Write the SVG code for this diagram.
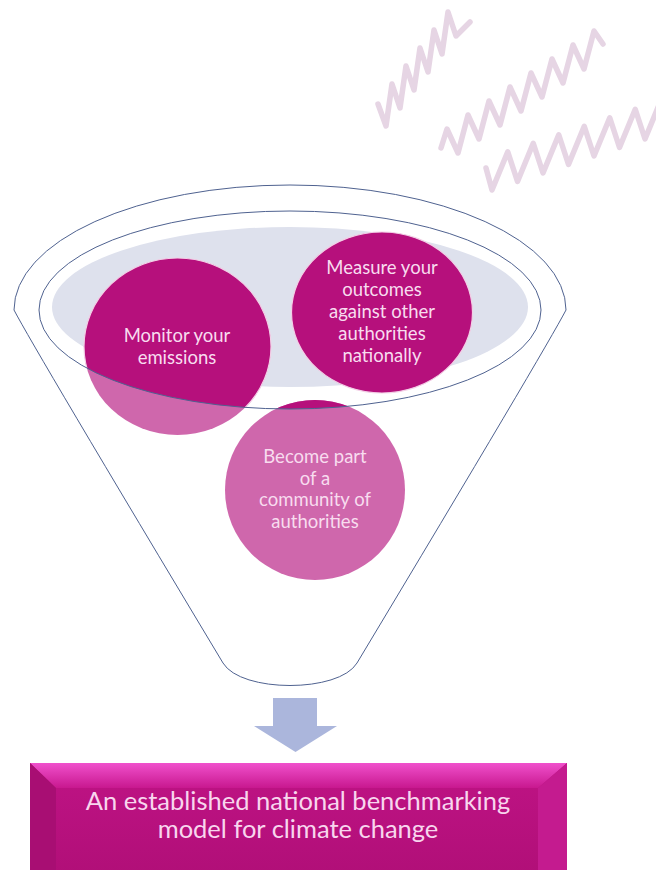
<svg xmlns="http://www.w3.org/2000/svg" width="656" height="870" viewBox="0 0 656 870">
<style>
.zig{fill:none;stroke:#e6d5e4;stroke-width:5.5;stroke-linecap:round;stroke-linejoin:round}
.rim{fill:none;stroke:#4f6290;stroke-width:1}
.ctext{font-family:Lato,"Liberation Sans",sans-serif;font-size:18.5px;fill:#f8dcef;text-anchor:middle}
.btext{font-family:Lato,"Liberation Sans",sans-serif;font-size:25.5px;fill:#f8d6ee;text-anchor:middle}
.dark{fill:#b6107c}
.light{fill:#cf67ac}
</style>
<defs>
<clipPath id="innerClip"><ellipse cx="290" cy="310" rx="251" ry="99"/></clipPath>
<linearGradient id="topBevel" x1="0" y1="0" x2="0" y2="1">
<stop offset="0" stop-color="#f050cc"/>
<stop offset="1" stop-color="#c8188f"/>
</linearGradient>
<linearGradient id="face" x1="0" y1="0" x2="0" y2="1">
<stop offset="0" stop-color="#bf1385"/>
<stop offset="1" stop-color="#b10f78"/>
</linearGradient>
</defs>

<g id="decor-zigzags">
<polyline class="zig" points="378,104 386,126 392,84 400,108 406,66 414,90 420,48 428,72 434,30 442,54 448,12 456,36 470,22"/>
<polyline class="zig" points="441,148 447,129 458,153 468,115 479,139 489,101 500,125 510,87 521,111 531,73 542,97 552,59 563,83 573,45 584,69 594,31 603,44"/>
<polyline class="zig" points="486,168 492,190 507.75,151.75 517.5,181.5 533.25,143.25 543,173 558.75,134.75 568.5,164.5 584.25,126.25 594,156 609.75,117.75 619.5,147.5 635.25,109.25 645,139 660.75,100.75"/>
</g>

<g id="funnel">
<path class="rim" fill="#ffffff" d="M14,310 A276,125 0 0 1 566,310 Q545,350 357,663 C339,693 241,693 223,663 Q35,350 14,310 Z"/>
<ellipse cx="290" cy="307" rx="238" ry="80" fill="#dee1ed"/>
</g>

<g id="node-monitor">
<ellipse class="light" cx="177.5" cy="346.5" rx="93.5" ry="88.5"/>
<ellipse class="dark" cx="177.5" cy="346.5" rx="93.5" ry="88.5" clip-path="url(#innerClip)" stroke="#f3cfe6" stroke-width="1.2"/>
<text class="ctext" x="177" y="342">Monitor your</text>
<text class="ctext" x="177" y="364">emissions</text>
</g>

<g id="node-measure">
<ellipse class="dark" cx="382" cy="312.5" rx="90.5" ry="80.5" stroke="#f3cfe6" stroke-width="1.2"/>
<text class="ctext" x="382" y="274">Measure your</text>
<text class="ctext" x="382" y="296">outcomes</text>
<text class="ctext" x="382" y="318">against other</text>
<text class="ctext" x="382" y="340">authorities</text>
<text class="ctext" x="382" y="362">nationally</text>
</g>

<g id="node-become">
<circle class="light" cx="315" cy="490" r="90"/>
<circle class="dark" cx="315" cy="490" r="90" clip-path="url(#innerClip)"/>
<text class="ctext" x="315" y="463">Become part</text>
<text class="ctext" x="315" y="485">of a</text>
<text class="ctext" x="315" y="506">community of</text>
<text class="ctext" x="315" y="528">authorities</text>
</g>

<g id="funnel-inner-rim">
<ellipse class="rim" cx="290" cy="310" rx="251" ry="99"/>
</g>

<g id="connectors">
<polygon fill="#abb6dc" points="273,698 317,698 317,726 337,726 295.5,752 254,726 273,726"/>
</g>

<g id="node-outcome">
<rect x="30" y="763" width="537" height="110" fill="url(#face)"/>
<polygon points="30,763 567,763 538,788 56,788" fill="url(#topBevel)"/>
<polygon points="30,763 56,788 56,870 30,870" fill="#a80e73"/>
<polygon points="567,763 567,870 538,870 538,788" fill="#c41b8f"/>
<text class="btext" x="298" y="810">An established national benchmarking</text>
<text class="btext" x="298" y="838">model for climate change</text>
</g>
</svg>
